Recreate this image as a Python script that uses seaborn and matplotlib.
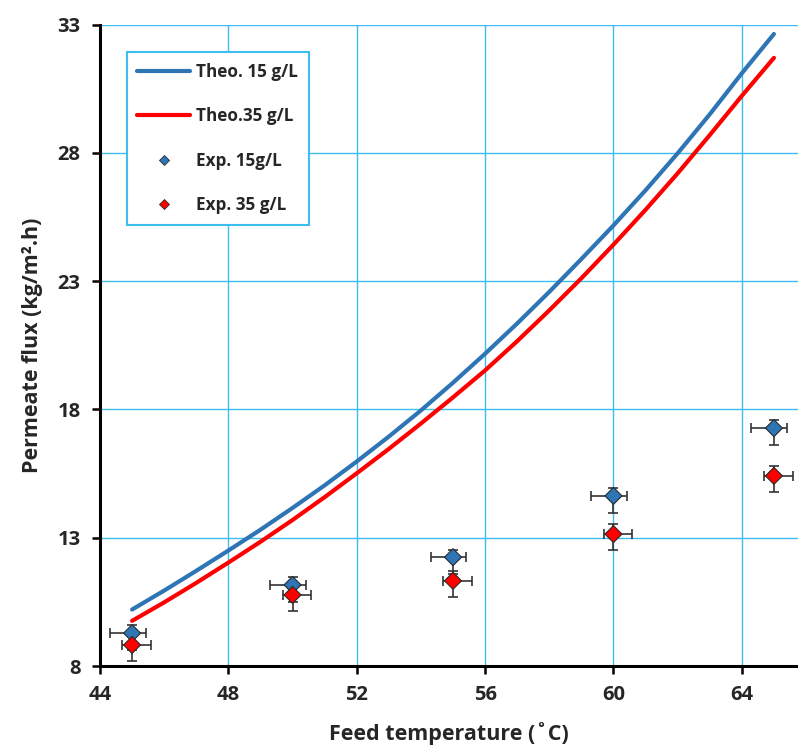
import numpy as np
import pandas as pd
import matplotlib
matplotlib.use("Agg")
import matplotlib.pyplot as plt
from matplotlib.lines import Line2D
import seaborn as sns

# Theoretical permeate flux (kg/m2.h) vs feed temperature (°C)
theo_temp = [45, 46, 47, 48, 49, 50, 51, 52, 53, 54, 55, 56, 57, 58, 59, 60, 61, 62, 63, 64, 65]
theo_15 = [10.2, 10.94, 11.71, 12.5, 13.31, 14.16, 15.04, 15.97, 16.94, 17.96, 19.04,
           20.17, 21.35, 22.58, 23.86, 25.17, 26.54, 27.98, 29.5, 31.1, 32.63]
theo_35 = [9.76, 10.48, 11.24, 12.03, 12.84, 13.69, 14.58, 15.51, 16.46, 17.45, 18.47,
           19.52, 20.66, 21.86, 23.11, 24.42, 25.78, 27.2, 28.69, 30.22, 31.7]

# Experimental measurements
exp_temp = [45, 50, 55, 60, 65]
exp_15 = [9.28, 11.16, 12.24, 14.63, 17.27]
exp_35 = [8.82, 10.77, 11.32, 13.14, 15.41]

# Error bar extents (lower, upper)
exp_15_yerr = (0.65, 0.30)
exp_15_xerr = (0.70, 0.42)
exp_35_yerr = (0.62, 0.38)
exp_35_xerr = (0.30, 0.58)

labels = ["Theo. 15 g/L", "Theo.35 g/L", "Exp. 15g/L", "Exp. 35 g/L"]
BLUE = "#2E75B6"
RED = "#FF0000"
GRID = "#3DBDF0"

sns.set_theme(style="white")
plt.rcParams["font.family"] = ["Open Sans", "DejaVu Sans"]
plt.rcParams["font.weight"] = "bold"

theo_df = pd.DataFrame({
    "temp": theo_temp * 2,
    "flux": theo_15 + theo_35,
    "series": [labels[0]] * len(theo_temp) + [labels[1]] * len(theo_temp),
})
exp_df = pd.DataFrame({
    "temp": exp_temp * 2,
    "flux": exp_15 + exp_35,
    "series": [labels[2]] * len(exp_temp) + [labels[3]] * len(exp_temp),
})

fig = plt.figure(figsize=(7.98, 7.47), dpi=100)
ax = fig.add_axes([100 / 798, 1 - 666 / 747, 1 - 100 / 798, (666 - 24.5) / 747])

sns.lineplot(data=theo_df, x="temp", y="flux", hue="series",
             palette={labels[0]: BLUE, labels[1]: RED}, linewidth=3.0,
             legend=False, ax=ax, zorder=3)

for temps, vals, xe, ye in [(exp_temp, exp_15, exp_15_xerr, exp_15_yerr),
                            (exp_temp, exp_35, exp_35_xerr, exp_35_yerr)]:
    n = len(temps)
    ax.errorbar(temps, vals,
                xerr=[[xe[0]] * n, [xe[1]] * n],
                yerr=[[ye[0]] * n, [ye[1]] * n],
                fmt="none", ecolor="#333333", elinewidth=1.2,
                capsize=3.5, capthick=1.2, zorder=4)

sns.scatterplot(data=exp_df, x="temp", y="flux", hue="series",
                palette={labels[2]: BLUE, labels[3]: RED}, marker="D",
                s=75, edgecolor="#2a2a2a", linewidth=0.8,
                legend=False, ax=ax, zorder=5)

ax.set_xlim(44, 65.75)
ax.set_ylim(8, 33)
ax.set_xticks(np.arange(44, 65, 4))
ax.set_yticks(np.arange(8, 34, 5))
ax.grid(True, color=GRID, linewidth=1.0)
ax.set_axisbelow(True)

for side in ["top", "right"]:
    ax.spines[side].set_visible(False)
for side in ["left", "bottom"]:
    ax.spines[side].set_color("black")
    ax.spines[side].set_linewidth(2.2)

ax.tick_params(axis="both", which="major", direction="out", length=6,
               width=1.8, color="black", labelsize=14.5, pad=8,
               left=True, bottom=True)
for lab in ax.get_xticklabels() + ax.get_yticklabels():
    lab.set_fontweight("bold")

ax.set_xlabel("Feed temperature (˚C)", fontsize=15.5, fontweight="bold", labelpad=12)
ax.set_ylabel("Permeate flux (kg/m².h)", fontsize=15.5, fontweight="bold", labelpad=10)

handles = [
    Line2D([], [], color=BLUE, lw=3.0),
    Line2D([], [], color=RED, lw=3.0),
    Line2D([], [], color=BLUE, marker="D", ls="none", markersize=5.5,
           markeredgecolor="#2a2a2a", markeredgewidth=0.6),
    Line2D([], [], color=RED, marker="D", ls="none", markersize=5.5,
           markeredgecolor="#2a2a2a", markeredgewidth=0.6),
]
leg = ax.legend(handles, labels, loc="upper left",
                bbox_to_anchor=(126.7 / 798, 1 - 52.3 / 747),
                bbox_transform=fig.transFigure, borderaxespad=0,
                prop={"weight": "bold", "size": 12.3}, handlelength=3.1,
                handletextpad=0.35, labelspacing=1.55, borderpad=0.62,
                fancybox=False, framealpha=1.0, edgecolor=GRID)
leg.get_frame().set_linewidth(1.5)
leg.set_zorder(10)

fig.savefig("out.png", dpi=100)
